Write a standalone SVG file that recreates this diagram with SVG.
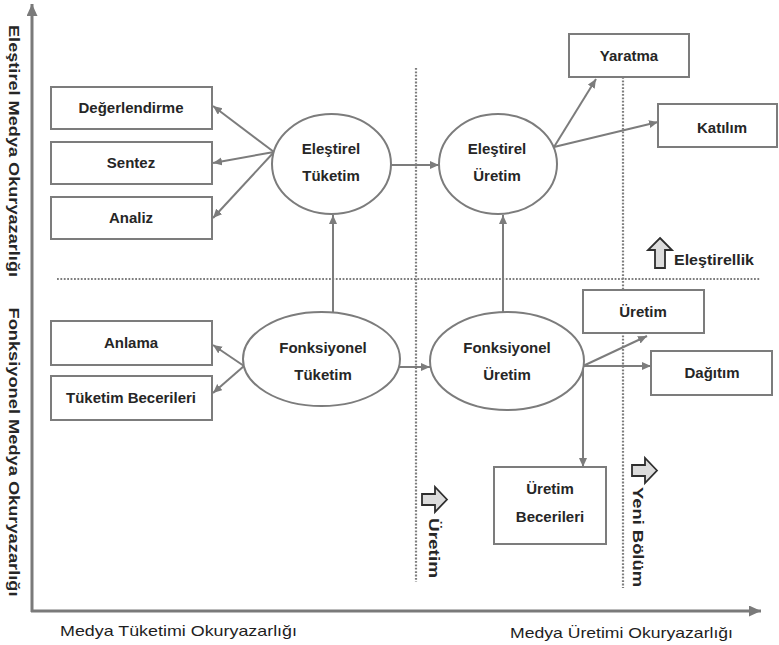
<svg xmlns="http://www.w3.org/2000/svg" width="779" height="645" viewBox="0 0 779 645">
  <style>
    .box { fill: #fff; stroke: #7c7c7c; stroke-width: 2; }
    .oval { fill: #fff; stroke: #7c7c7c; stroke-width: 2; }
    .lbl { font-family: "Liberation Sans", Arial, sans-serif; font-size: 15px; font-weight: bold; fill: #262626; text-anchor: middle; }
    .axis-lbl { font-family: "Liberation Sans", Arial, sans-serif; font-size: 15px; fill: #1e1e1e; }
    .vlbl { font-family: "Liberation Sans", Arial, sans-serif; font-size: 15px; font-weight: bold; fill: #262626; text-anchor: middle; }
    .edge { fill: none; stroke: #7c7c7c; stroke-width: 2; marker-end: url(#tip); }
    .axis { fill: none; stroke: #7a7a7a; stroke-width: 3; marker-end: url(#bigtip); }
    .dots { fill: none; stroke: #7e7e7e; stroke-width: 2.2; stroke-dasharray: 1.8 1.6; }
    .icon { fill: #dcdcdc; stroke: #2e2e2e; stroke-width: 1.8; stroke-linejoin: miter; }
  </style>
  <defs>
    <marker id="tip" markerUnits="userSpaceOnUse" markerWidth="10" markerHeight="9" refX="9" refY="4" orient="auto">
      <path d="M0,0 L9,4 L0,8 z" fill="#7c7c7c"/>
    </marker>
    <marker id="bigtip" markerUnits="userSpaceOnUse" markerWidth="14" markerHeight="12" refX="12" refY="5.5" orient="auto">
      <path d="M0,0 L12,5.5 L0,11 z" fill="#7a7a7a"/>
    </marker>
  </defs>

  <!-- axes -->
  <g id="axes">
    <path class="axis" d="M32,612 L32,4"/>
    <path class="axis" d="M31,611 L761,611"/>
    <text class="vlbl" transform="translate(9,151) rotate(90)" textLength="252" lengthAdjust="spacingAndGlyphs">Eleştirel Medya Okuryazarlığı</text>
    <text class="vlbl" transform="translate(9,452) rotate(90)" textLength="289" lengthAdjust="spacingAndGlyphs">Fonksiyonel Medya Okuryazarlığı</text>
    <text class="axis-lbl" x="60" y="636" textLength="237" lengthAdjust="spacingAndGlyphs">Medya Tüketimi Okuryazarlığı</text>
    <text class="axis-lbl" x="510" y="638" textLength="223" lengthAdjust="spacingAndGlyphs">Medya Üretimi Okuryazarlığı</text>
  </g>

  <!-- dotted dividers -->
  <g id="dividers">
    <path class="dots" d="M57,279 L760,279"/>
    <path class="dots" d="M416,68 L416,582"/>
    <path class="dots" d="M623,77 L623,588"/>
  </g>

  <!-- direction markers -->
  <g id="marker-elestirellik">
    <path class="icon" d="M660,238 L672,250 L665,250 L665,268 L655,268 L655,250 L648,250 z"/>
    <text class="lbl" x="674" y="265" style="text-anchor:start" textLength="80" lengthAdjust="spacingAndGlyphs">Eleştirellik</text>
  </g>
  <g id="marker-uretim">
    <path class="icon" d="M447,499.5 L435,487 L435,494 L422,494 L422,505 L435,505 L435,512 z"/>
    <text class="vlbl" transform="translate(429,548) rotate(90)" textLength="60" lengthAdjust="spacingAndGlyphs">Üretim</text>
  </g>
  <g id="marker-yeni-bolum">
    <path class="icon" d="M657,470.5 L645,458 L645,465 L632,465 L632,476 L645,476 L645,483 z"/>
    <text class="vlbl" transform="translate(633,537) rotate(90)" textLength="100" lengthAdjust="spacingAndGlyphs">Yeni Bölüm</text>
  </g>

  <!-- connectors -->
  <g id="connectors">
    <path class="edge" d="M274,152 L213,106"/>
    <path class="edge" d="M274,152 L213,163"/>
    <path class="edge" d="M274,152 L213,218"/>
    <path class="edge" d="M391,165 L439,165"/>
    <path class="edge" d="M333,312 L333,215"/>
    <path class="edge" d="M503,312 L503,215"/>
    <path class="edge" d="M554,147 L596,79"/>
    <path class="edge" d="M554,147 L658,122"/>
    <path class="edge" d="M244,366 L213,345"/>
    <path class="edge" d="M244,366 L213,393"/>
    <path class="edge" d="M399,367 L430,367"/>
    <path class="edge" d="M583,366 L647,336"/>
    <path class="edge" d="M583,366 L651,366"/>
    <path class="edge" d="M583,366 L583,467"/>
  </g>

  <!-- nodes -->
  <g id="degerlendirme">
    <rect class="box" x="51" y="87" width="161" height="42"/>
    <text class="lbl" x="131" y="113">Değerlendirme</text>
  </g>
  <g id="sentez">
    <rect class="box" x="51" y="142" width="161" height="42"/>
    <text class="lbl" x="131" y="168">Sentez</text>
  </g>
  <g id="analiz">
    <rect class="box" x="51" y="197" width="161" height="42"/>
    <text class="lbl" x="131" y="223">Analiz</text>
  </g>
  <g id="elestirel-tuketim">
    <ellipse class="oval" cx="331.5" cy="164" rx="59.5" ry="50"/>
    <text class="lbl" x="331" y="154">Eleştirel</text>
    <text class="lbl" x="331" y="181">Tüketim</text>
  </g>
  <g id="elestirel-uretim">
    <ellipse class="oval" cx="498" cy="164" rx="59" ry="50"/>
    <text class="lbl" x="497" y="154">Eleştirel</text>
    <text class="lbl" x="497" y="181">Üretim</text>
  </g>
  <g id="yaratma">
    <rect class="box" x="569" y="34" width="120" height="43"/>
    <text class="lbl" x="629" y="61">Yaratma</text>
  </g>
  <g id="katilim">
    <rect class="box" x="658" y="104" width="119" height="43"/>
    <text class="lbl" x="722" y="133">Katılım</text>
  </g>
  <g id="anlama">
    <rect class="box" x="51" y="321" width="161" height="44"/>
    <text class="lbl" x="131" y="348">Anlama</text>
  </g>
  <g id="tuketim-becerileri">
    <rect class="box" x="51" y="376" width="161" height="44"/>
    <text class="lbl" x="131" y="403">Tüketim Becerileri</text>
  </g>
  <g id="fonksiyonel-tuketim">
    <ellipse class="oval" cx="321.5" cy="359" rx="78.5" ry="47"/>
    <text class="lbl" x="323" y="353">Fonksiyonel</text>
    <text class="lbl" x="323" y="380">Tüketim</text>
  </g>
  <g id="fonksiyonel-uretim">
    <ellipse class="oval" cx="507" cy="361" rx="77" ry="49"/>
    <text class="lbl" x="507" y="353">Fonksiyonel</text>
    <text class="lbl" x="507" y="380">Üretim</text>
  </g>
  <g id="uretim">
    <rect class="box" x="583" y="290" width="121" height="43"/>
    <text class="lbl" x="643" y="317">Üretim</text>
  </g>
  <g id="dagitim">
    <rect class="box" x="651" y="351" width="121" height="44"/>
    <text class="lbl" x="712" y="378">Dağıtım</text>
  </g>
  <g id="uretim-becerileri">
    <rect class="box" x="494" y="467" width="112" height="77"/>
    <text class="lbl" x="550" y="494">Üretim</text>
    <text class="lbl" x="550" y="522">Becerileri</text>
  </g>
</svg>
